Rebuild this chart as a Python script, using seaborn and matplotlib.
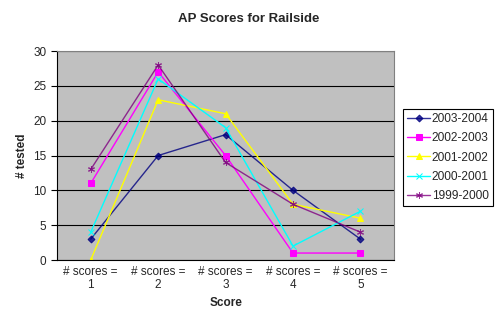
import numpy as np
import pandas as pd
import matplotlib
matplotlib.use("Agg")
import matplotlib.pyplot as plt
import seaborn as sns

categories = ["# scores =\n1", "# scores =\n2", "# scores =\n3", "# scores =\n4", "# scores =\n5"]
years = ["2003-2004", "2002-2003", "2001-2002", "2000-2001", "1999-2000"]
y2003 = [3, 15, 18, 10, 3]
y2002 = [11, 27, 15, 1, 1]
y2001 = [0, 23, 21, 8, 6]
y2000 = [4, 26, 19, 2, 7]
y1999 = [13, 28, 14, 8, 4]

colors = ["#000080", "#FF00FF", "#FFFF00", "#00FFFF", "#800080"]
markers = ["D", "s", "^", "x", (6, 2, 0)]
msizes = [3.5, 5, 5, 4.5, 5]

rows = []
for yr, vals in zip(years, [y2003, y2002, y2001, y2000, y1999]):
    for i, v in enumerate(vals):
        rows.append({"pos": i, "tested": v, "year": yr})
df = pd.DataFrame(rows)

sns.set_style("white")
plt.rcParams["font.family"] = ["Liberation Sans", "DejaVu Sans"]

fig = plt.figure(figsize=(4.98, 3.21), dpi=100)
ax = fig.add_axes([0.1145, 0.19, 0.677, 0.651])
ax.set_facecolor("#C0C0C0")

for yr, c, m, ms in zip(years, colors, markers, msizes):
    sub = df[df["year"] == yr]
    sns.lineplot(data=sub, x="pos", y="tested", ax=ax, color=c, marker=m,
                 markersize=ms, markeredgecolor=c, linewidth=1, label=yr,
                 alpha=0.8 if c in ("#000080", "#800080") else 1)

ax.set_xlim(-0.5, 4.5)
ax.set_ylim(0, 30)
ax.set_yticks(range(0, 31, 5))
ax.yaxis.grid(True, color="black", linewidth=0.8)
ax.set_axisbelow(True)
ax.set_xticks(range(5))
ax.set_xticklabels(categories, fontsize=8.5)
ax.set_xticks(np.arange(-0.5, 5, 1), minor=True)
ax.tick_params(axis="x", which="major", length=0, pad=4)
ax.tick_params(axis="x", which="minor", length=4, direction="out", color="black")
ax.tick_params(axis="y", length=4, direction="out", color="black", labelsize=8.5, left=True)
for s in ["top", "right"]:
    ax.spines[s].set_color("#808080")
ax.spines["left"].set_color("black")
ax.spines["bottom"].set_color("black")

ax.set_xlabel("Score", fontsize=8.5, fontweight="bold", labelpad=4)
ax.set_ylabel("# tested", fontsize=8.5, fontweight="bold")
fig.text(0.5, 0.93, "AP Scores for Railside", fontsize=9.5, fontweight="bold", ha="center")

leg = ax.legend(loc="upper left", bbox_to_anchor=(1.027, 0.722), fontsize=8.6,
                frameon=True, fancybox=False, edgecolor="black", framealpha=1,
                handlelength=1.9, handletextpad=0.15, borderpad=0.35, labelspacing=0.6,
                borderaxespad=0)
leg.get_frame().set_linewidth(0.8)

fig.savefig("out.png", dpi=100)
